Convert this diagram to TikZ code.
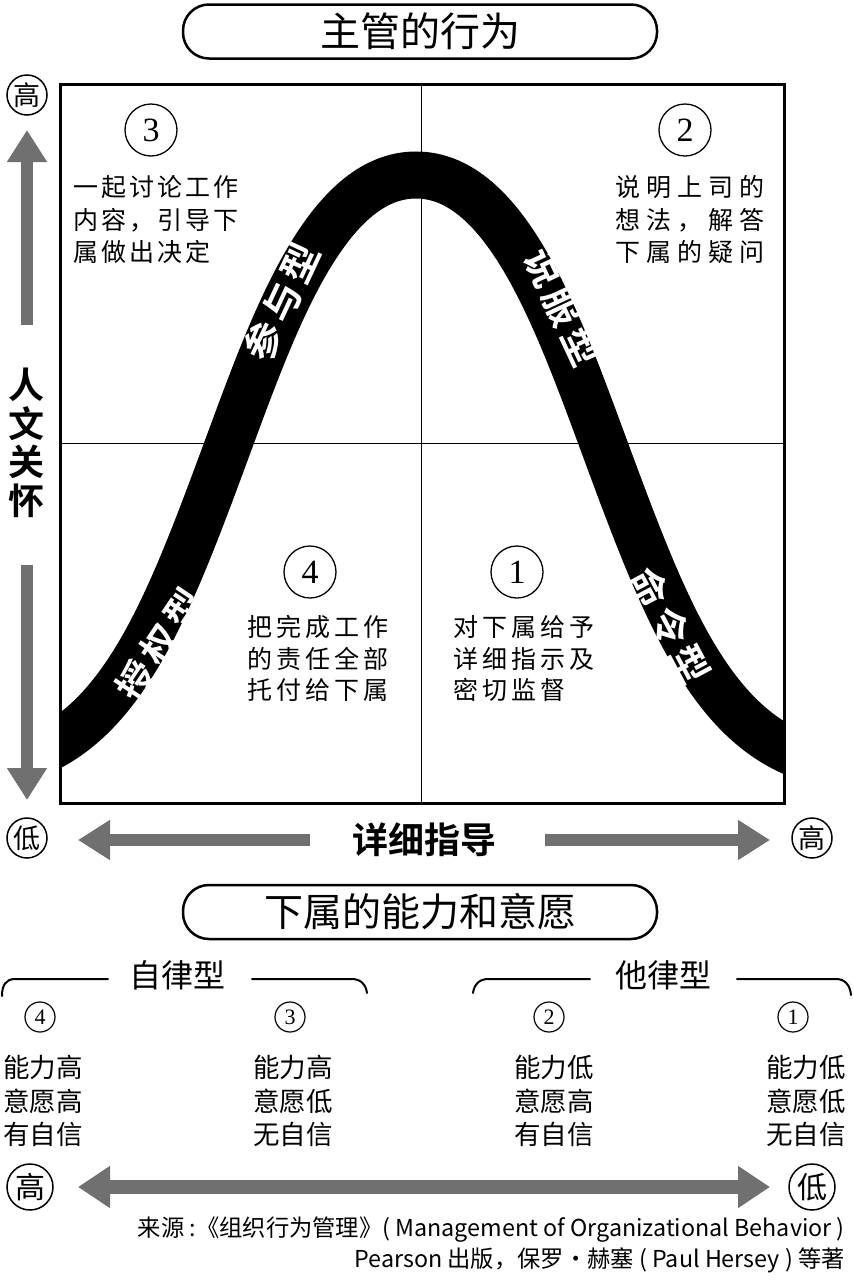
\documentclass[tikz,border=0pt]{standalone}
\usepackage{fontspec}
\setmainfont{Noto Sans CJK SC}
\newfontfamily\cjk{Noto Sans CJK SC}
\newfontfamily\cjkb{Noto Sans CJK SC Bold}
\newfontfamily\cjkbls{Noto Sans CJK SC Bold}[LetterSpace=14]
\newfontfamily\cjkla{Noto Sans CJK SC}[LetterSpace=12]
\newfontfamily\cjklb{Noto Sans CJK SC}[LetterSpace=24]
\newfontfamily\cjklc{Noto Sans CJK SC}[LetterSpace=16]
\newfontfamily\numfont{Liberation Serif}
\usetikzlibrary{arrows.meta}
\definecolor{arrowgray}{RGB}{112,112,112}
\tikzset{
  pill/.style={draw, line width=2.5pt, rounded corners=26pt, minimum width=474pt,
    minimum height=54pt, inner sep=0pt, font=\cjk\fontsize{40}{40}\selectfont},
  garrow/.style={draw=arrowgray, line width=12pt, -{Triangle[length=32pt,width=38pt]}},
  gdarrow/.style={draw=arrowgray, line width=14pt, {Triangle[length=32pt,width=40pt]}-{Triangle[length=32pt,width=40pt]}},
  hlcirc/.style={draw, circle, line width=1.5pt, minimum size=40pt, inner sep=0pt,
    font=\cjk\fontsize{27}{27}\selectfont},
  hlcircb/.style={draw, circle, line width=1.5pt, minimum size=46pt, inner sep=0pt,
    font=\cjk\fontsize{30}{30}\selectfont},
  numbig/.style={draw, circle, line width=1.3pt, minimum size=52pt, inner sep=0pt,
    font=\numfont\fontsize{34}{34}\selectfont},
  numsmall/.style={draw, circle, line width=1.2pt, minimum size=30pt, inner sep=0pt,
    font=\numfont\fontsize{22}{22}\selectfont},
  bandtxt/.style={text=white, inner sep=0pt, font=\cjkbls\fontsize{38}{38}\selectfont},
  qa/.style={anchor=west, inner sep=0pt, font=\cjkla\fontsize{25}{25}\selectfont},
  qb/.style={anchor=west, inner sep=0pt, font=\cjklb\fontsize{25}{25}\selectfont},
  qc/.style={anchor=west, inner sep=0pt, font=\cjklc\fontsize{25}{25}\selectfont},
  coltxt/.style={anchor=west, inner sep=0pt, font=\cjk\fontsize{26.5}{26.5}\selectfont},
  grp/.style={inner sep=0pt, font=\cjk\fontsize{32}{32}\selectfont},
  brk/.style={line width=2pt, line cap=round},
  src/.style={anchor=east, inner sep=0pt, font=\cjk\fontsize{23.3}{23.3}\selectfont},
}
\begin{document}
\begin{tikzpicture}[x=1pt,y=-1pt]
\useasboundingbox (0,0) rectangle (854,1280);
\fill[white] (0,0) rectangle (854,1280);

% title
\node[pill] (title) at (420,31.5) {主管的行为};

% quadrant dividers
\coordinate (vtop) at (421,84);
\coordinate (vbot) at (421,803);
\coordinate (hl) at (60,443);
\coordinate (hr) at (784,443);
\draw[line width=1pt] (vtop) -- (vbot);
\draw[line width=1pt] (hl) -- (hr);

% band
\begin{scope}
\clip (60,84) rectangle (784,803);
\draw[line width=47pt] (0,770) -- (40,752)
  .. controls (130,712) and (174,592) .. (229,443)
  .. controls (274,321.5) and (326,175) .. (416,175)
  .. controls (506,175) and (558,321.5) .. (603,443)
  .. controls (658,592) and (702,712) .. (792,752) -- (832,770);
\end{scope}

% frame
\node[draw, line width=3pt, minimum width=724pt, minimum height=719pt, inner sep=0pt] (frame) at (422,443.5) {};

% band labels
\node[bandtxt, rotate=65] (lblP) at (282,302) {参与型};
\node[bandtxt, rotate=-65] (lblS) at (563,307) {说服型};
\node[bandtxt, rotate=56] (lblD) at (160,645) {授权型};
\node[bandtxt, rotate=-62] (lblC) at (670,626) {命令型};

% quadrant numbers
\node[numbig] (q3) at (151,130) {3};
\node[numbig] (q2) at (685,130) {2};
\node[numbig] (q4) at (310,572) {4};
\node[numbig] (q1) at (517,572) {1};

% quadrant texts
\node[qa] (t3a) at (73,187) {一起讨论工作};
\node[qa] (t3b) at (73,220) {内容，引导下};
\node[qa] (t3c) at (73,252) {属做出决定};
\node[qb] (t2a) at (615,187) {说明上司的};
\node[qb] (t2b) at (615,220) {想法，解答};
\node[qb] (t2c) at (615,252) {下属的疑问};
\node[qc] (t4a) at (247,627) {把完成工作};
\node[qc] (t4b) at (247,659) {的责任全部};
\node[qc] (t4c) at (247,690) {托付给下属};
\node[qc] (t1a) at (453,627) {对下属给予};
\node[qc] (t1b) at (453,659) {详细指示及};
\node[qc] (t1c) at (453,690) {密切监督};

% vertical axis
\node[hlcirc] (vhigh) at (27,95) {高};
\node[inner sep=0pt, align=center, font=\cjkb\fontsize{36}{38.5}\selectfont] (vlabel) at (27,443) {人\\文\\关\\怀};
\coordinate (upTail) at (27,325);
\coordinate (upTip) at (27,130);
\coordinate (dnTail) at (27,565);
\coordinate (dnTip) at (27,800);
\draw[garrow] (upTail) -- (upTip);
\draw[garrow] (dnTail) -- (dnTip);

% horizontal axis
\node[hlcirc] (hlow) at (27,838) {低};
\node[hlcirc] (hhigh) at (812,838) {高};
\node[inner sep=0pt, font=\cjkb\fontsize{36}{36}\selectfont] (hlabel) at (424,840) {详细指导};
\coordinate (lTail) at (310,840);
\coordinate (lTip) at (78,840);
\coordinate (rTail) at (545,840);
\coordinate (rTip) at (770,840);
\draw[garrow] (lTail) -- (lTip);
\draw[garrow] (rTail) -- (rTip);

% second title
\node[pill, font=\cjk\fontsize{39}{39}\selectfont] (title2) at (420,912) {下属的能力和意愿};

% groups
\node[grp] (gA) at (177,975) {自律型};
\node[grp] (gB) at (663,975) {他律型};
\draw[brk] (2,996) .. controls (2,985) and (6,979) .. (15,979) -- (108,979);
\draw[brk] (252,979) -- (352,979) .. controls (361,979) and (366,985) .. (367,993);
\draw[brk] (473,993) .. controls (474,985) and (479,979) .. (488,979) -- (590,979);
\draw[brk] (737,979) -- (836,979) .. controls (845,979) and (850,985) .. (851,995);

% small numbers
\node[numsmall] (s4) at (40,1017) {4};
\node[numsmall] (s3) at (290,1017) {3};
\node[numsmall] (s2) at (549,1017) {2};
\node[numsmall] (s1) at (793,1017) {1};

% columns
\node[coltxt] (c4a) at (3,1067) {能力高};
\node[coltxt] (c4b) at (3,1101) {意愿高};
\node[coltxt] (c4c) at (3,1134) {有自信};
\node[coltxt] (c3a) at (253,1067) {能力高};
\node[coltxt] (c3b) at (253,1101) {意愿低};
\node[coltxt] (c3c) at (253,1134) {无自信};
\node[coltxt] (c2a) at (514,1067) {能力低};
\node[coltxt] (c2b) at (514,1101) {意愿高};
\node[coltxt] (c2c) at (514,1134) {有自信};
\node[coltxt] (c1a) at (766,1067) {能力低};
\node[coltxt] (c1b) at (766,1101) {意愿低};
\node[coltxt] (c1c) at (766,1134) {无自信};

% bottom axis
\node[hlcircb] (bhigh) at (30,1187) {高};
\node[hlcircb] (blow) at (812,1187) {低};
\coordinate (bl) at (78,1187);
\coordinate (br) at (770,1187);
\draw[gdarrow] (bl) -- (br);

% source
\node[src] (src1) at (845,1230) {来源 :《组织行为管理》( Management of Organizational Behavior )};
\node[src] (src2) at (845,1260) {Pearson 出版，保罗・赫塞 ( Paul Hersey ) 等著};
\end{tikzpicture}
\end{document}
